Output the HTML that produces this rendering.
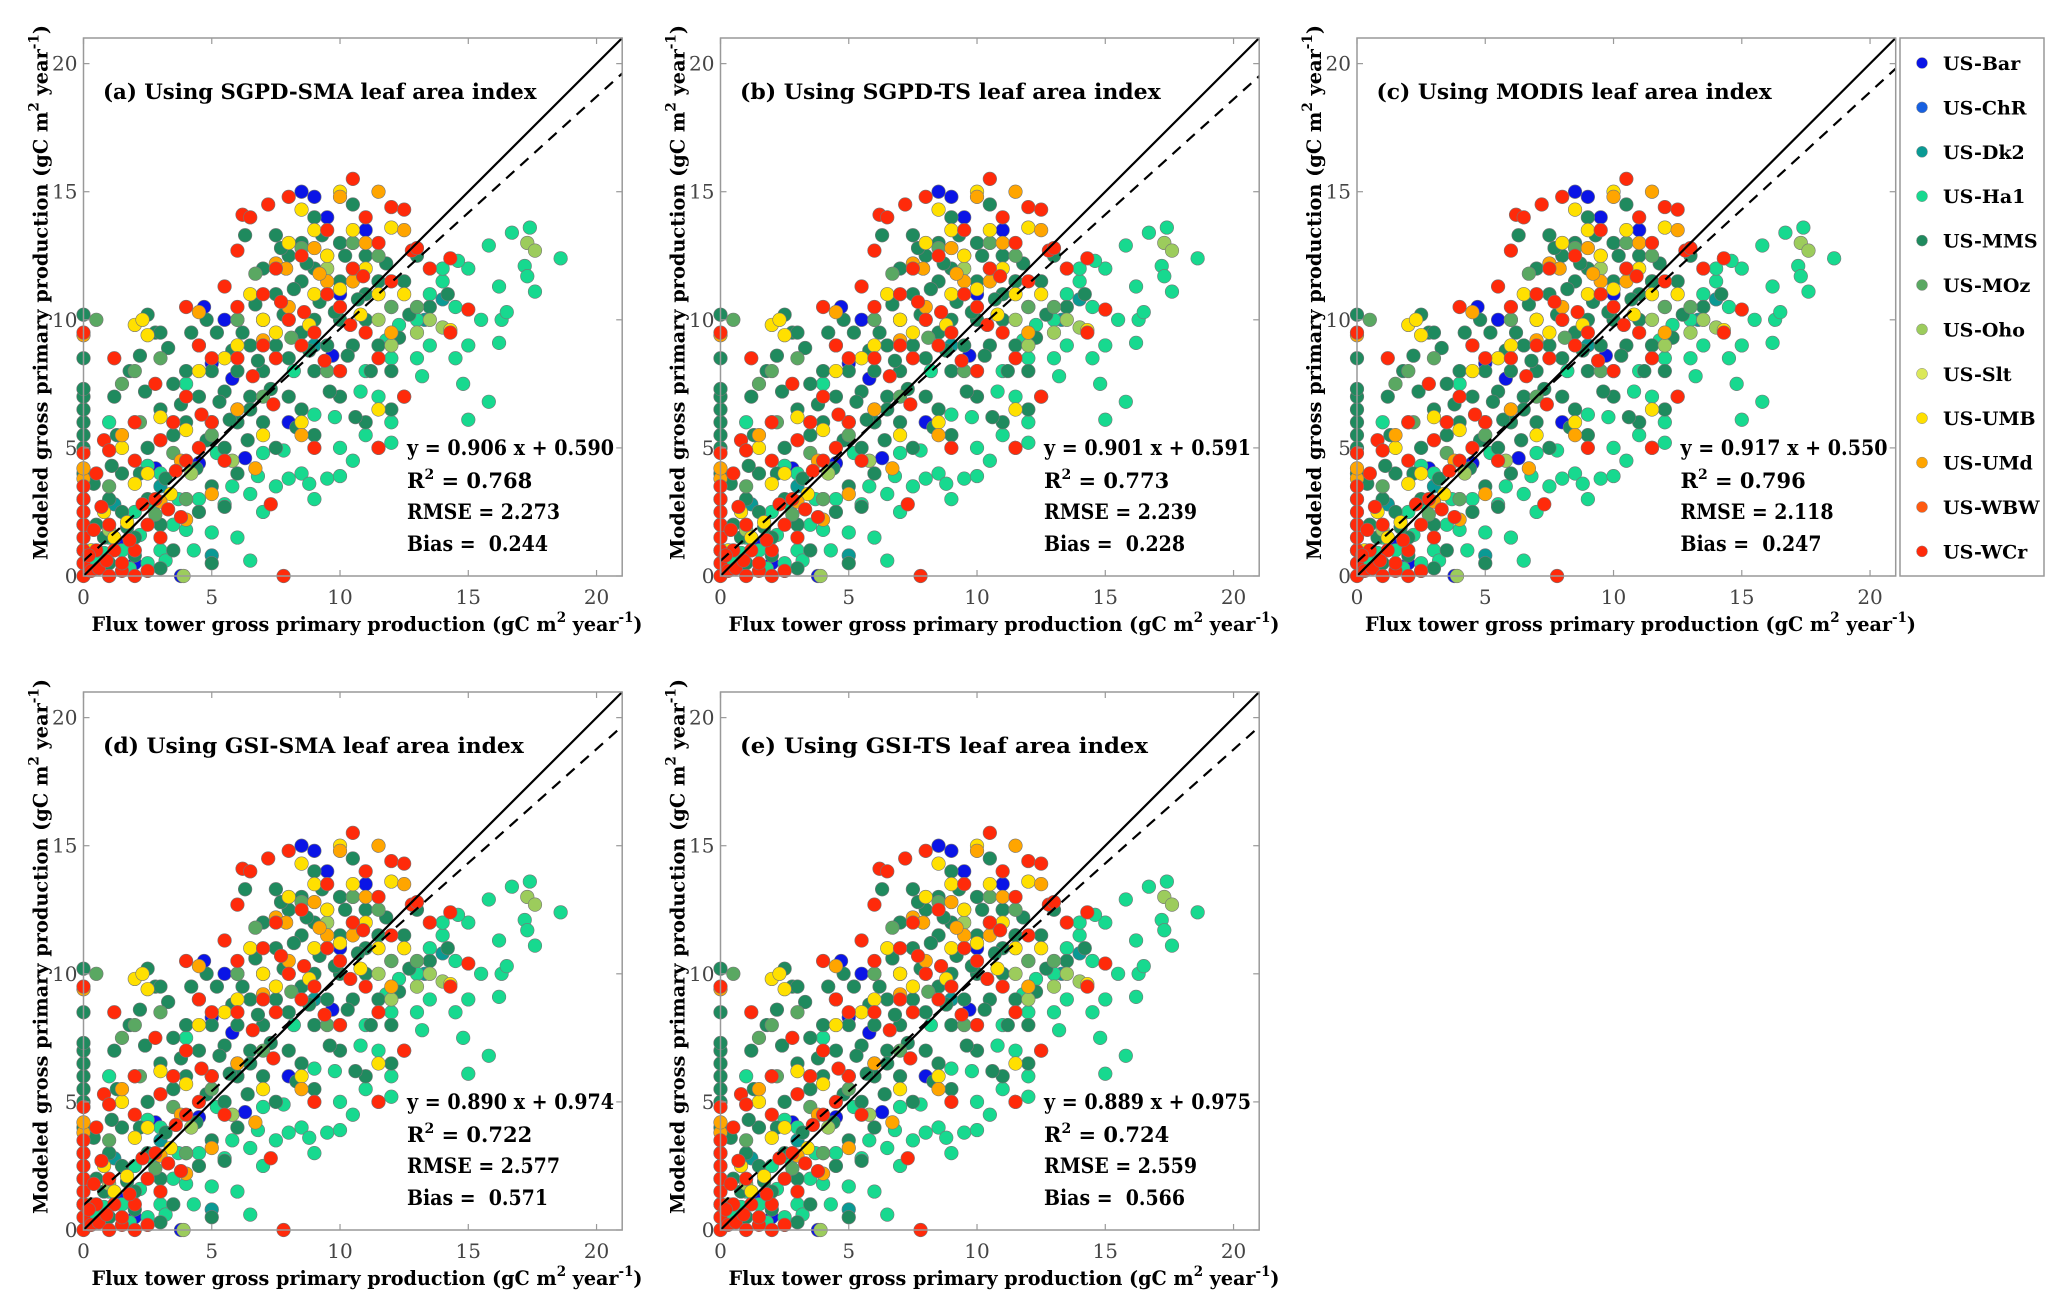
<!DOCTYPE html>
<html><head><meta charset="utf-8"><style>
html,body{margin:0;padding:0;background:#fff}
svg{display:block}
text{font-family:"DejaVu Serif","Liberation Serif",serif;white-space:pre}
</style></head><body>
<svg id="fig" width="2067" height="1313" viewBox="0 0 2067 1313" xmlns="http://www.w3.org/2000/svg"></svg>
<script>
// ---- data ----
const sites = ["US-Bar","US-ChR","US-Dk2","US-Ha1","US-MMS","US-MOz","US-Oho","US-Slt","US-UMB","US-UMd","US-WBW","US-WCr"];
const siteColors = ["#0a14e6","#1760e0","#0a9a94","#17d98f","#1f8a5e","#5aa862","#9ccc5c","#dbe85a","#ffe000","#ffa500","#ff5a10","#ff2a0a"];
const ptsBar = "2.5,0.2 3.8,0 2.8,4.2 4.5,4.4 4.7,10.5 5,8.3 5.5,10 6.3,4.6 7,10 8.5,15 9,14.8 9.5,14 10,11 11,13.5 11.5,11.5 8,6 2,0.5 5.8,7.7 9.7,8.6 1.4,1.2";
const ptsChR = "";
const ptsDk2 = "1.2,2.8 3,3.5 6,6 9,9 14,10.8 13.3,10 5,0.8";
const ptsHa1 = "0.5,0.5 1,1.5 1.5,1 2,2.5 2.5,0.5 3,1 3.5,2 4,1.8 4.5,3 5,1.7 5.5,2.8 6,1.5 6.5,0.6 6.5,3.2 7,2.5 7.5,3.5 8,3.8 8.5,4 9,3 9.5,3.8 10,3.9 10,5 10.5,4.5 11,5.5 11,8 11.5,5 11.5,7 12,6 12,8.5 12.5,7 13,8.5 13,10 13.5,11 13.5,9 14,11.5 14,12 14.5,8.5 14.5,10.5 15,12 15,9 14.8,7.5 15,6.1 15.5,10 15.8,6.8 15.8,12.9 16.2,11.3 16.2,9.1 16.3,10 16.5,10.3 16.7,13.4 17.2,12.1 17.4,13.6 17.6,11.1 18.6,12.4 17.3,11.7 4,7.5 3,4 6,6.5 7,4.8 9,6.3 12,5.2 8.2,8 5.2,4.8 1,6 2.5,4.3 1.8,0.3 3.2,0.6 4.3,1 2.2,1.6 6.8,3.9 8.8,3.6 9.8,6.2 10.8,7.2 12.3,9.8 13.2,7.8 14.6,12.3 11.8,9.2 2.7,2.8 0.8,0.9 3.7,3 5.8,3.5 7.8,4.9";
const ptsMMS = "0,1 0,2 0,3 0,4 0,5 0,5.5 0,6 0,6.5 0,7 0,7.3 0,8.5 0,10.2 0.5,2 1,3 1.5,4 1.2,7 1.8,8 2.2,8.6 2.5,10.2 2.8,9.5 3,9.5 3.3,8.9 2,6 2.5,5 3,6.5 3.5,7.5 3.5,5.5 4,8 4,6 4.5,9 4.5,7 4.8,10 5,8 5,6 5.2,9.5 5.5,7.2 5.5,5 6,8 6,6 6,10 6.3,13.3 6.5,9 6.5,7 7,10 7,8 7,12 7,6 7.5,9 7.5,11 7.5,13.3 8,7 8,10 8,12.5 8,8.5 8.5,9.5 8.5,11.5 8.5,13 9,8 9,10 9,12 9,14 9.5,9 9.5,11 9.5,12.5 10,8 10,10 10,11.5 10,13 10.5,9 10.5,12 10.5,14.5 11,10 11,11 11,12.5 11.5,9 11.5,11.5 12,10.5 12,8 12.5,11.5 13,12.5 1.5,2.5 2,1.5 2.5,3 3,2 3.5,1 4,3 4.5,2.5 5,0.5 5,3.5 5.5,2.7 6,4 6.5,6.5 7.5,5 8.5,6.5 9,5.5 10,7 11,6 12,6.5 13.5,10.5 14.2,11 3,0.3 1,0.5 2,0.8 0.8,1.5 1.3,5.5 2.4,7.2 3.8,6.7 4.2,9.5 5.3,6.8 5.8,8.8 6.2,9.5 6.8,8.4 7.3,7.3 7.8,10.2 8.2,11.2 8.8,8.8 9.2,10.7 9.8,10.3 10.3,8.6 10.7,10.8 11.2,8 11.8,12.2 12.3,9.3 8.7,12.2 9.3,13.3 10.2,12.5 7.7,12.8 6.7,10.6 4.8,5.3 3.2,3.8 2.2,4 1.7,1.9 4.4,4.2 5.7,6.1 6.4,5.3 8.3,5.8 9.6,7.2 10.6,6.2 12.7,10.2 0.4,3.6 1.1,4.3";
const ptsMOz = "0.5,10 1.5,7.5 2,8 2.2,6 3,8.5 3.5,4.8 5,5.5 6,10 7,7 8.5,12.8 9.5,8 10.5,13 11.5,12.5 12,10.5 13,10.5 1,3.5 4,3 2.8,2.4 6.7,11.8 8.1,9.3";
const ptsOho = "3.9,0 11.5,10 13,9.5 13.5,10 14,9.7 17.3,13 17.6,12.7 5.8,4.5 1,1.8 9.5,12 12,9 4.2,4";
const ptsSlt = "";
const ptsUMB = "0.3,1 0.8,2.5 1.2,1.5 1.5,5 2,9.8 2.3,10 2.5,9.4 2,3.6 2.5,4 3,6.2 4,5.7 4.5,8 5,6 5.5,8.5 6,9 6.5,11 7,10 7.5,9.5 8,13 8.5,14.3 9,13.5 9,11 9.5,12.5 10,15 10,11.2 10.5,13.5 11,12 11.5,11 12,13.6 12.5,11 14.3,9.6 7,5.5 8.5,6 11.5,6.5 3.4,3.2 8.8,9.8 10.8,10.2 1.7,2.1";
const ptsUMd = "0,3.8 0,4.2 0,9.4 1.5,5.5 3,2.9 3.5,6 3.8,4.5 4,2.2 4.5,10.3 5,3.2 6,6.5 6.7,4.2 7,9.2 7.5,12.2 8,10.5 8.5,5.5 9,12.8 9.5,11.5 10,14.8 10.5,11.5 11,13 11.5,15 12,9.5 12.5,13.5 7.9,12 9.2,11.8";
const ptsWBW = "";
const ptsWCr = "0,0 0,0.5 0,1 0,1.5 0,2 0,2.5 0,3 0,3.5 0,4.8 0,9.5 0.3,0.2 0.6,0.3 1,0 1.5,0.2 2,0 2.5,0.2 0.5,1 1,2 1.5,0.5 0.8,5.3 1,4.9 1.2,8.5 0.5,4 2,1 2.5,2 2,4.5 2.8,3 3,1.5 2.8,7.5 3.5,6 4,4.5 4,7 4,10.5 4.5,9 4.5,5 5,8.5 5,6 5.5,11.3 5.5,4.5 6,8.5 6,10.5 6,12.7 6.2,14.1 6.5,14 7,11 7,9 7.2,14.5 7.5,8.5 7.5,12 8,14.8 8,10 8.5,9 8.5,12.5 9,9.5 9.5,11 9.5,13.5 10,8 10,10.5 10.5,12 10.5,15.5 11,9.5 11,14 11.5,13 11.5,8.5 12,14.4 12,11.5 12.5,7 12.5,14.3 12.8,12.7 13.5,12 14.3,12.4 15,10.4 14.3,9.5 7.8,0 2,6 3,5.3 3.8,2.3 7.3,2.8 9,5 11.5,5 13,12.8 0.2,0.8 0.4,1.8 0.7,2.7 1.2,1 0.9,0.6 1.8,1.4 2.3,2.8 3.3,2.6 3.6,4.1 4.6,6.3 6.6,7.8 7.7,10.7 8.6,10.3 9.4,8.4 10.4,9.8 10.9,11.7 7.4,6.7";
const sitePoints = [ptsBar,ptsChR,ptsDk2,ptsHa1,ptsMMS,ptsMOz,ptsOho,ptsSlt,ptsUMB,ptsUMd,ptsWBW,ptsWCr];
const panelTitles = ["(a) Using SGPD-SMA leaf area index","(b) Using SGPD-TS leaf area index","(c) Using MODIS leaf area index","(d) Using GSI-SMA leaf area index","(e) Using GSI-TS leaf area index"];
const slopes = [0.906,0.901,0.917,0.890,0.889];
const intercepts = [0.590,0.591,0.550,0.974,0.975];
const r2s = ["0.768","0.773","0.796","0.722","0.724"];
const rmses = ["2.273","2.239","2.118","2.577","2.559"];
const biases = ["0.244","0.228","0.247","0.571","0.566"];
const ticks = [0,5,10,15,20];

// ---- drawing ----
const NS="http://www.w3.org/2000/svg";
const svg=document.getElementById('fig');
function mk(tag,attrs,parent){const e=document.createElementNS(NS,tag);for(const k in attrs)e.setAttribute(k,attrs[k]);(parent||svg).appendChild(e);return e;}
const origins=[[83.5,38],[720.5,38],[1357,38],[83.5,692],[720.5,692]];
const W=538.7,H=538, MAX=21;

origins.forEach((o,p)=>{
  const g=mk('g',{});
  
  
  const sx=v=>o[0]+v/MAX*W, sy=v=>o[1]+H-v/MAX*H;
  const pg=mk('g',{},g);
  
  
  sitePoints.forEach((s,si)=>{
    if(!s) return;
    s.split(' ').forEach(pr=>{
      const [x,y]=pr.split(',').map(Number);
      const c=mk('circle',{cx:sx(x),cy:sy(y),r:6.8,fill:siteColors[si],stroke:'#777','stroke-width':0.6},pg);
      
      
    });
  });
  const l1=mk('line',{x1:sx(0),y1:sy(0),x2:sx(21),y2:sy(21),stroke:'#000','stroke-width':2.2},g);
  
  
  const l2=mk('line',{x1:sx(0),y1:sy(intercepts[p]),x2:sx(21),y2:sy(slopes[p]*21+intercepts[p]),stroke:'#000','stroke-width':2.2,'stroke-dasharray':'11,8'},g);
  
  
  const fr=mk('rect',{x:o[0],y:o[1],width:W,height:H,fill:'none',stroke:'#999','stroke-width':1.5},g);
  
  
  ticks.forEach(t=>{
    mk('line',{x1:sx(t),y1:o[1]+H,x2:sx(t),y2:o[1]+H-6,stroke:'#999','stroke-width':1.2},g);
    mk('line',{x1:sx(t),y1:o[1],x2:sx(t),y2:o[1]+6,stroke:'#999','stroke-width':1.2},g);
    mk('line',{x1:o[0],y1:sy(t),x2:o[0]+6,y2:sy(t),stroke:'#999','stroke-width':1.2},g);
    mk('line',{x1:o[0]+W,y1:sy(t),x2:o[0]+W-6,y2:sy(t),stroke:'#999','stroke-width':1.2},g);
    const tx=mk('text',{x:sx(t),y:o[1]+H+28,'text-anchor':'middle','font-size':20,fill:'#444'},g);
    tx.textContent=t;
    
    
    const ty=mk('text',{x:o[0]-6,y:sy(t)+7,'text-anchor':'end','font-size':20,fill:'#444'},g);
    ty.textContent=t;
    
    
  });
  const tt=mk('text',{x:o[0]+19.5,y:o[1]+61,'font-size':21,'font-weight':'bold',fill:'#000',textLength:panelTitles[p].length*12.75,lengthAdjust:'spacingAndGlyphs'},g);
  tt.textContent=panelTitles[p];
  
  
  const bx=o[0]+323.5;
  const s1=mk('text',{x:bx,y:o[1]+417,'font-size':21,'font-weight':'bold',textLength:207,lengthAdjust:'spacingAndGlyphs'},g);
  s1.textContent='y = '+slopes[p].toFixed(3)+' x + '+intercepts[p].toFixed(3);
  
  
  const s2=mk('text',{x:bx,y:o[1]+450,'font-size':21,'font-weight':'bold'},g);
  s2.innerHTML='R<tspan dy="-9" font-size="14">2</tspan><tspan dy="9"> = '+r2s[p]+'</tspan>';
  
  
  const s3=mk('text',{x:bx,y:o[1]+481,'font-size':21,'font-weight':'bold',textLength:153,lengthAdjust:'spacingAndGlyphs'},g);
  s3.textContent='RMSE = '+rmses[p];
  
  
  const s4=mk('text',{x:bx,y:o[1]+513,'font-size':21,'font-weight':'bold',textLength:141,lengthAdjust:'spacingAndGlyphs'},g);
  s4.textContent='Bias =\u00a0\u00a0'+biases[p];
  
  
  const xl=mk('text',{x:o[0]+8,y:o[1]+H+55,'font-size':20,'font-weight':'bold',textLength:551,lengthAdjust:'spacingAndGlyphs'},g);
  xl.innerHTML='Flux tower gross primary production (gC m<tspan dy="-9" font-size="14">2</tspan><tspan dy="9"> year</tspan><tspan dy="-9" font-size="14">-1</tspan><tspan dy="9">)</tspan>';
  
  
  const yl=mk('text',{x:0,y:0,'font-size':20,'font-weight':'bold',textLength:535,lengthAdjust:'spacingAndGlyphs',transform:'translate('+(o[0]-36)+','+(o[1]+522)+') rotate(-90)'},g);
  yl.innerHTML='Modeled gross primary production (gC m<tspan dy="-9" font-size="14">2</tspan><tspan dy="9"> year</tspan><tspan dy="-9" font-size="14">-1</tspan><tspan dy="9">)</tspan>';
  
  
});

const lg=mk('g',{});


mk('rect',{x:1900,y:38,width:144,height:538,fill:'#fff',stroke:'#999','stroke-width':1.5},lg);
sites.forEach((s,i)=>{
  const y=63+i*44.4;
  const c=mk('circle',{cx:1922,cy:y,r:5.5,fill:siteColors[i],stroke:'#888','stroke-width':0.5},lg);
  
  
  const t=mk('text',{x:1943,y:y+7,'font-size':19,'font-weight':'bold'},lg);
  t.textContent=s;
  
  
});
</script>
</body></html>
